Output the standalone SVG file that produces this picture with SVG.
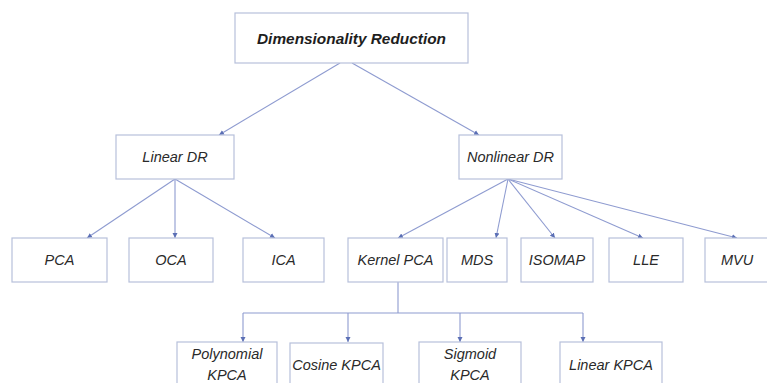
<svg xmlns="http://www.w3.org/2000/svg" width="767" height="383" viewBox="0 0 767 383">
<defs>
<marker id="ah" markerWidth="6" markerHeight="6" refX="5" refY="3" orient="auto" markerUnits="userSpaceOnUse">
<path d="M0,0.5 L5,3 L0,5.5 Z" fill="#5b6fb5"/>
</marker>
<style>
.box{fill:#ffffff;stroke:#b7c0db;stroke-width:1.2}
.t{font-family:"Liberation Sans",Arial,sans-serif;font-style:italic;font-size:14.5px;fill:#2a2a2a;text-anchor:middle;dominant-baseline:central}
.tb{font-weight:bold;font-size:15.4px;fill:#1e1e1e}
.c{fill:none;stroke:#8e9bd0;stroke-width:1.1}
.a{marker-end:url(#ah)}
</style>
</defs>
<rect width="767" height="383" fill="#ffffff"/>
<g id="connectors">
<line class="c a" x1="340" y1="63" x2="219" y2="135"/>
<line class="c a" x1="352" y1="63" x2="479" y2="135"/>
<line class="c a" x1="175" y1="179" x2="87" y2="238"/>
<line class="c a" x1="175" y1="179" x2="175" y2="238"/>
<line class="c a" x1="175" y1="179" x2="275" y2="238"/>
<line class="c a" x1="508" y1="179" x2="398" y2="238"/>
<line class="c a" x1="508" y1="179" x2="496" y2="238"/>
<line class="c a" x1="508" y1="179" x2="555" y2="238"/>
<line class="c a" x1="508" y1="179" x2="643" y2="238"/>
<line class="c a" x1="508" y1="179" x2="737" y2="238"/>
<line class="c" x1="398" y1="282" x2="398" y2="313"/>
<line class="c" x1="243" y1="313" x2="583" y2="313"/>
<line class="c a" x1="243" y1="313" x2="243" y2="342"/>
<line class="c a" x1="348" y1="313" x2="348" y2="342"/>
<line class="c a" x1="460" y1="313" x2="460" y2="342"/>
<line class="c a" x1="583" y1="313" x2="583" y2="342"/>
</g>
<g id="n-root"><rect class="box" x="235" y="13" width="233" height="50"/><text class="t tb" x="351.5" y="38">Dimensionality Reduction</text></g>
<g id="n-linear"><rect class="box" x="116" y="135" width="118" height="44"/><text class="t" x="175" y="157">Linear DR</text></g>
<g id="n-nonlinear"><rect class="box" x="459" y="135" width="103" height="44"/><text class="t" x="510.5" y="157">Nonlinear DR</text></g>
<g id="n-pca"><rect class="box" x="12" y="238" width="95" height="44"/><text class="t" x="59.5" y="260">PCA</text></g>
<g id="n-oca"><rect class="box" x="129" y="238" width="84" height="44"/><text class="t" x="171" y="260">OCA</text></g>
<g id="n-ica"><rect class="box" x="243" y="238" width="81" height="44"/><text class="t" x="283.5" y="260">ICA</text></g>
<g id="n-kpca"><rect class="box" x="348" y="238" width="95" height="44"/><text class="t" x="395.5" y="260">Kernel PCA</text></g>
<g id="n-mds"><rect class="box" x="447" y="238" width="60" height="44"/><text class="t" x="477" y="260">MDS</text></g>
<g id="n-isomap"><rect class="box" x="521" y="238" width="72" height="44"/><text class="t" x="557" y="260">ISOMAP</text></g>
<g id="n-lle"><rect class="box" x="609" y="238" width="74" height="44"/><text class="t" x="646" y="260">LLE</text></g>
<g id="n-mvu"><rect class="box" x="705" y="238" width="70" height="44"/><text class="t" x="737" y="260">MVU</text></g>
<g id="n-poly"><rect class="box" x="177" y="342" width="100" height="50"/><text class="t" x="227" y="354">Polynomial</text><text class="t" x="227" y="375">KPCA</text></g>
<g id="n-cos"><rect class="box" x="290" y="343" width="93" height="50"/><text class="t" x="336.5" y="365">Cosine KPCA</text></g>
<g id="n-sig"><rect class="box" x="419" y="342" width="102" height="50"/><text class="t" x="470" y="354">Sigmoid</text><text class="t" x="470" y="375">KPCA</text></g>
<g id="n-lin"><rect class="box" x="560" y="342" width="102" height="50"/><text class="t" x="611" y="365">Linear KPCA</text></g>
</svg>
